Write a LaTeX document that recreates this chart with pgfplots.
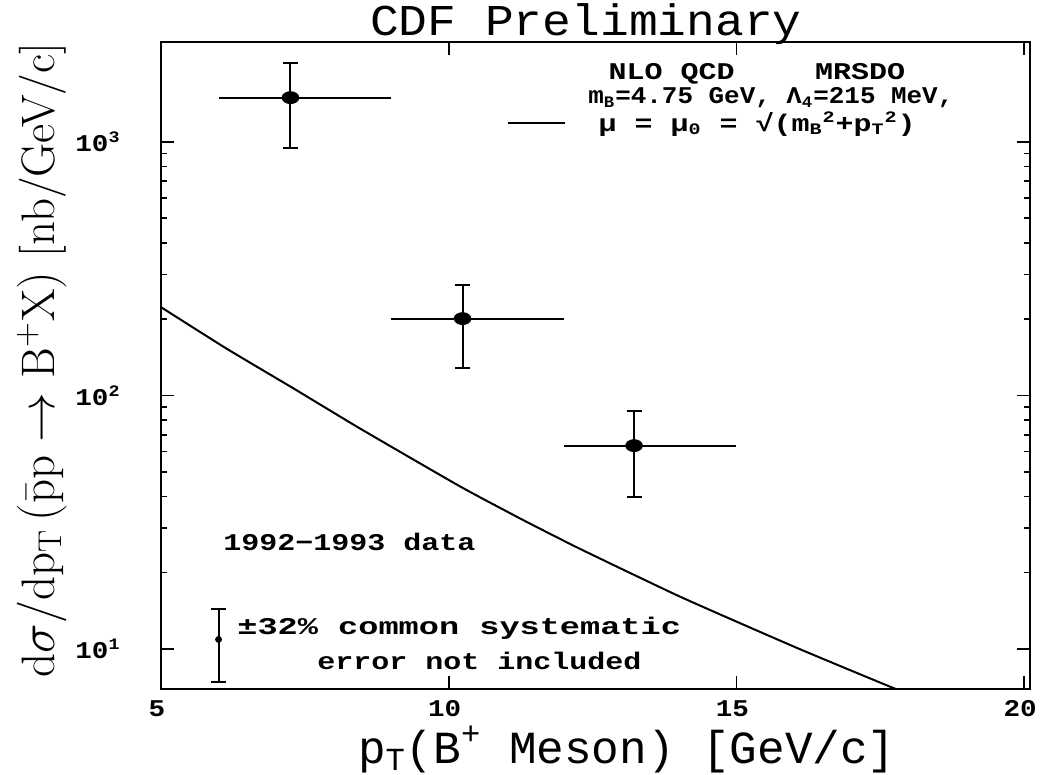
\documentclass[border=0pt]{standalone}
\usepackage{fontspec}
\setmonofont{Liberation Mono}
\newfontfamily\pf[FakeStretch=1.25]{Liberation Mono}
\newfontfamily\pfn[FakeStretch=1.08]{Liberation Mono}
\newfontfamily\pfw[FakeStretch=1.4]{Liberation Mono}
\newfontfamily\tickf[FakeStretch=1.15]{Liberation Mono}
\newfontfamily\titlef[FakeStretch=1.09]{Liberation Mono}
\usepackage{pgfplots}
\pgfplotsset{compat=1.18}
\usetikzlibrary{calc}

% measured B+ cross section, bins 6-9, 9-12, 12-15 GeV/c
\pgfplotstableread{
x     y     exm   exp   ey
7.25  1496  1.25  1.75  546
10.24 201   1.24  1.76  73
13.22 63.4  1.22  1.78  23.7
}\cdfdata

% NLO QCD prediction (MRSD0, mb=4.75 GeV)
\pgfplotstableread{
x     y
5.00  223
6.14  153
7.30  106.7
8.47  73.8
10.21 43.6
11.31 32.1
12.30 24.7
14.04 16.0
16.07 10.05
17.96 6.67
18.40 6.2
}\nlocurve

\begin{document}
\begin{tikzpicture}
\begin{axis}[
  scale only axis, width=434.5pt, height=323.5pt,
  xmin=5, xmax=20.1, ymode=log, ymin=6.95, ymax=2480,
  xtick={5,10,15,20}, minor x tick num=0,
  ytick={10,100,1000},
  yticklabels={10\textsuperscript{1},10\textsuperscript{2},10\textsuperscript{3}},
  tick align=inside, major tick length=6.5pt, minor tick length=3pt,
  axis line style={line width=1pt},
  every tick/.style={black, line width=0.8pt},
  xticklabel style={font=\fontsize{12}{12}\selectfont\tickf\bfseries, anchor=center, inner sep=0pt, yshift=-10pt, xshift=-2pt},
  yticklabel style={font=\fontsize{12}{12}\selectfont\tickf\bfseries, anchor=east, inner sep=0pt, xshift=-20pt},
  xticklabel={\pgfmathprintnumber[assume math mode=true]{\tick}},
  xlabel={p\textsubscript{T}(B\textsuperscript{+} Meson) [GeV/c]},
  xlabel style={font=\fontsize{23}{23}\selectfont\ttfamily, at={(rel axis cs:0.536,-0.1144)}, anchor=base, inner sep=0pt},
  ylabel={$\mathrm{d}\sigma/\mathrm{dp_T}\,(\bar{\mathrm{p}}\mathrm{p}\rightarrow\mathrm{B^{+}X})$ [nb/GeV/c]},
  ylabel style={font=\fontsize{23.5}{23.5}\selectfont, at={(rel axis cs:-0.137,0.5085)}, anchor=center, inner sep=0pt},
  clip mode=individual,
]
\coordinate (SW) at (rel axis cs:0,0);
\coordinate (NE) at (rel axis cs:1,1);

\addplot[only marks, mark=none, black,
  error bars/.cd, x dir=both, x explicit, error mark=none,
  error bar style={line width=1pt}]
  table[x=x, y=y, x error plus=exp, x error minus=exm] {\cdfdata};
\addplot[only marks, mark=*, mark size=3pt, black, mark options={xscale=1.4},
  error bars/.cd, y dir=both, y explicit,
  error bar style={line width=1pt},
  error mark options={rotate=90, mark size=3.75pt, line width=1pt, black}]
  table[x=x, y=y, y error=ey] {\cdfdata};

\addplot[black, line width=1pt, smooth, tension=0.3] table[x=x, y=y] {\nlocurve};

% common systematic error (+-32%)
\addplot[only marks, mark=*, mark size=1.5pt, black,
  error bars/.cd, y dir=both, y explicit,
  error bar style={line width=1pt},
  error mark options={rotate=90, mark size=3.75pt, line width=1pt, black}]
  coordinates {(6.0,10.9) +- (0,3.5)};

\draw[line width=1pt] (rel axis cs:0.399,0.875) -- (rel axis cs:0.465,0.875);
\node[font=\fontsize{22}{22}\selectfont\titlef, anchor=base, inner sep=0pt] at (rel axis cs:0.489,1.0108) {CDF Preliminary};
\begin{scope}[every node/.style={font=\fontsize{12}{12}\selectfont\bfseries, inner sep=0pt}]
\node[anchor=base] at (rel axis cs:0.5875,0.9413) {\pf NLO QCD};
\node[anchor=base] at (rel axis cs:0.8044,0.9413) {\pf MRSDO};
\node[anchor=base west] at (rel axis cs:0.4914,0.9042) {\pfn m\textsubscript{B}=4.75 GeV, Λ\textsubscript{4}=215 MeV,};
\node[anchor=base west] at (rel axis cs:0.503,0.8624) {\pf μ = μ\textsubscript{0} = √(m\textsubscript{B}\textsuperscript{2}+p\textsubscript{T}\textsuperscript{2})};
\node[anchor=base west] at (rel axis cs:0.0713,0.2148) {\pf 1992−1993 data};
\node[anchor=base west] at (rel axis cs:0.0875,0.0835) {\pfw ±32\% common systematic};
\node[anchor=base west] at (rel axis cs:0.1795,0.0309) {\pf error not included};
\end{scope}
\end{axis}
\pgfresetboundingbox
\path[use as bounding box] ($(SW)+(-80.5pt,-42.5pt)$) rectangle ($(NE)+(5.5pt,21pt)$);
\end{tikzpicture}
\end{document}
